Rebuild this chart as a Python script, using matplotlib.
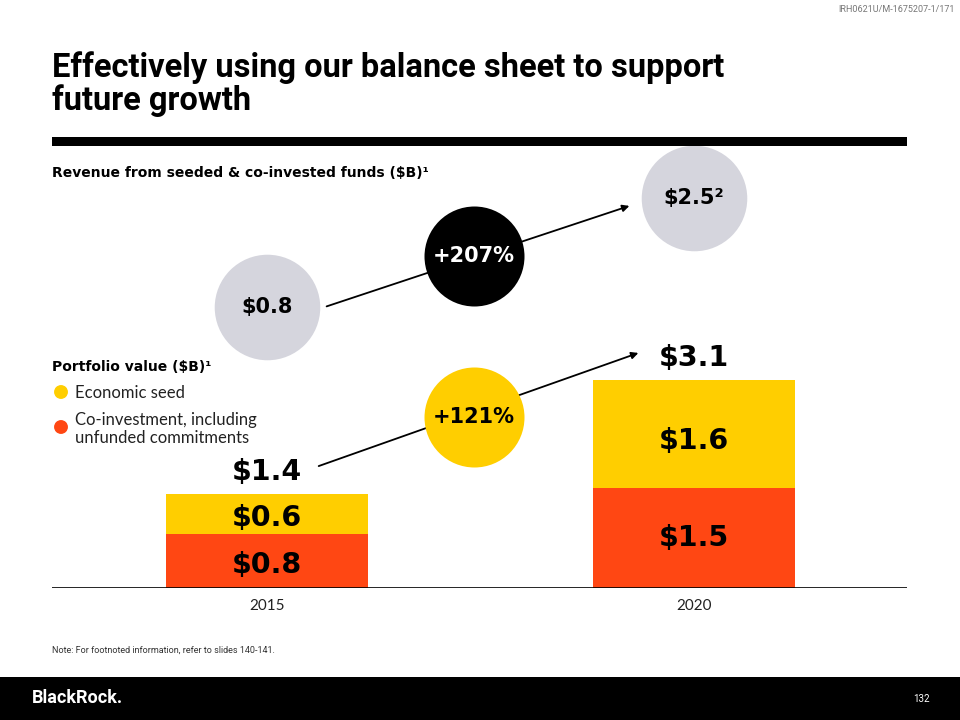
import matplotlib.pyplot as plt

# data
years = ["2015", "2020"]
seed = [0.6, 1.6]          # Economic seed ($B)
coinvest = [0.8, 1.5]      # Co-investment ($B)
portfolio_total = [1.4, 3.1]
revenue = ["$0.8", "$2.5²"]
revenue_growth = "+207%"
portfolio_growth = "+121%"

YELLOW = "#FFCE00"
RED = "#FF4713"
GREY = "#D5D5DD"
HEAVY = "DejaVu Sans"

W, H = 960, 720
fig = plt.figure(figsize=(9.6, 7.2), dpi=100)


def px(x, y):
    return x / W, 1 - y / H


def ftext(x, y, s, **kw):
    fx, fy = px(x, y)
    fig.text(fx, fy, s, **kw)


# bar axes: baseline at y=588 px, ~67 px per $1B
ppu = 67.0
ax_bottom, ax_top = 588, 139
ax = fig.add_axes([52 / W, 1 - ax_bottom / H, (907 - 52) / W, (ax_bottom - ax_top) / H])
ax.set_ylim(0, (ax_bottom - ax_top) / ppu)
ax.set_xlim(-0.5035, 1.499)
ax.axis("off")
ax.axhline(0, color="black", lw=1.2, zorder=3)

xs = [0, 1]
ax.bar(xs, coinvest, width=0.475, color=RED, zorder=2)
ax.bar(xs, seed, bottom=coinvest, width=0.475, color=YELLOW, zorder=2)

big = dict(family=HEAVY, fontweight="bold", ha="center", va="center", color="black")
for i in range(2):
    ax.text(xs[i], coinvest[i] / 2 - (0.05 if i == 0 else 0), f"${coinvest[i]:.1f}", fontsize=20.5, **big)
    ax.text(xs[i], coinvest[i] + seed[i] / 2 - (0.05 if i == 0 else 0.1), f"${seed[i]:.1f}", fontsize=20.5, **big)
    ax.text(xs[i], portfolio_total[i] + 0.33, f"${portfolio_total[i]:.1f}", fontsize=20.5, **big)
    ax.text(xs[i], -0.27, years[i], fontsize=11, family="Lato", ha="center", va="center", color="#222222")

# revenue circles
rev_y = [4.19, 5.82]
ax.scatter(xs, rev_y, s=76 ** 2, color=GREY, zorder=4, linewidths=0)
for i in range(2):
    ax.text(xs[i], rev_y[i], revenue[i], fontsize=15, family=HEAVY, fontweight="bold",
            ha="center", va="center", color="black", zorder=5)

# arrows
arrow = dict(arrowstyle="-|>", color="black", lw=1.3, mutation_scale=10)
ax.annotate("", xy=(0.855, 5.716), xytext=(0.1335, 4.19), arrowprops=arrow, zorder=3)
ax.annotate("", xy=(0.876, 3.522), xytext=(0.115, 1.806), arrowprops=arrow, zorder=3)

# growth circles
ax.scatter([0.485], [4.955], s=72 ** 2, color="black", zorder=4, linewidths=0)
ax.text(0.485, 4.955, revenue_growth, fontsize=15, family=HEAVY, fontweight="bold",
        ha="center", va="center", color="white", zorder=5)
ax.scatter([0.485], [2.552], s=72 ** 2, color=YELLOW, zorder=4, linewidths=0)
ax.text(0.485, 2.552, portfolio_growth, fontsize=15, family=HEAVY, fontweight="bold",
        ha="center", va="center", color="black", zorder=5)

# header
ftext(955, 10, "IRH0621U/M-1675207-1/171", fontsize=6.5, color="#777777", ha="right", va="center",
      family="Roboto")
ftext(52, 84, "Effectively using our balance sheet to support\nfuture growth", fontsize=23.5,
      family="Roboto", fontweight="bold", ha="left", va="center", linespacing=1.0)
hdr = fig.add_axes([52 / W, 1 - 146 / H, (907 - 52) / W, 9 / H])
hdr.set_facecolor("black")
hdr.set_xticks([])
hdr.set_yticks([])
for s in hdr.spines.values():
    s.set_visible(False)

ftext(52, 173, "Revenue from seeded & co-invested funds ($B)¹", fontsize=10, family=HEAVY,
      fontweight="bold", ha="left", va="center")
ftext(52, 367, "Portfolio value ($B)¹", fontsize=10, family=HEAVY, fontweight="bold",
      ha="left", va="center")

# legend
leg = fig.add_axes([0, 0, 1, 1], facecolor="none")
leg.set_xlim(0, W)
leg.set_ylim(H, 0)
leg.axis("off")
leg.scatter([61, 61], [392, 427], s=100, color=[YELLOW, RED], linewidths=0)
ftext(75, 393, "Economic seed", fontsize=12, family="Lato", ha="left", va="center", color="#222222")
ftext(75, 429, "Co-investment, including\nunfunded commitments", fontsize=12, family="Lato",
      ha="left", va="center", color="#222222", linespacing=1.1)

# footer
ftext(52, 650, "Note: For footnoted information, refer to slides 140-141.", fontsize=6.5,
      family="Roboto", color="#333333", ha="left", va="center")
foot = fig.add_axes([0, 0, 1, 43 / H])
foot.set_facecolor("black")
foot.set_xticks([])
foot.set_yticks([])
for s in foot.spines.values():
    s.set_visible(False)
ftext(32, 698, "BlackRock.", fontsize=13, family="Roboto", fontweight="bold", color="white",
      ha="left", va="center")
ftext(930, 699, "132", fontsize=7, family="Roboto", color="white", ha="right", va="center")

fig.savefig("out.png", dpi=100)
